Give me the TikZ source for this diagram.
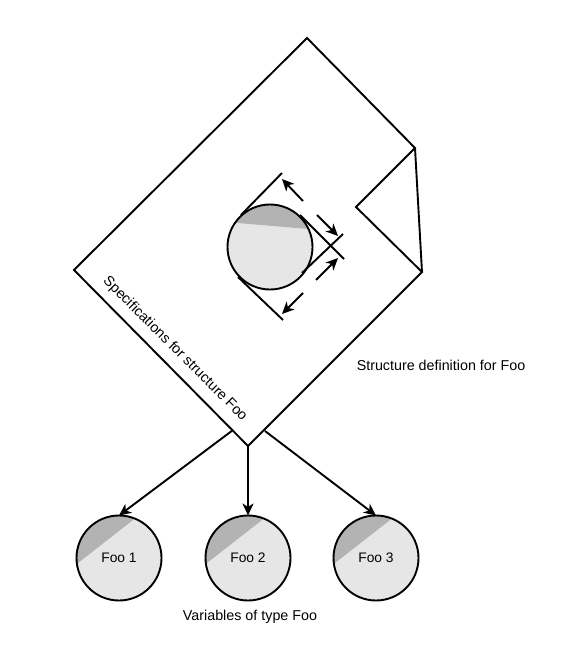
\documentclass[tikz,border=0pt]{standalone}
\usepackage{fontspec}
\setmainfont{Liberation Sans}
\usetikzlibrary{arrows.meta}
\definecolor{lightfill}{HTML}{E6E6E6}
\definecolor{capfill}{HTML}{B3B3B3}

\tikzset{
  >={Stealth[length=12pt,width=11pt,inset=3.5pt]},
  line/.style={line width=1.9pt,line join=miter},
  label/.style={font=\fontsize{14.3}{17}\selectfont,inner sep=0pt},
  foo/.style={draw,circle,line width=1.9pt,fill=lightfill,minimum size=85pt,inner sep=0pt,outer sep=0pt,
    font=\fontsize{13.8}{16}\selectfont,
    path picture={\fill[capfill] ([shift={(-41,5)}]path picture bounding box.center)
      -- ([shift={(14,-38)}]path picture bounding box.center)
      -- ([shift={(14,-50)}]path picture bounding box.center)
      -- ([shift={(-50,-50)}]path picture bounding box.center)
      -- ([shift={(-50,5)}]path picture bounding box.center) -- cycle;}},
}

\begin{document}
\begin{tikzpicture}[x=1pt,y=-1pt]
    \useasboundingbox (0,0) rectangle (567,669);

    % sheet corners
    \coordinate (top) at (307,38);
    \coordinate (left) at (74,270);
    \coordinate (bottom) at (248,446);
    \coordinate (right) at (422,272);
    \coordinate (foldtop) at (415,148);
    \coordinate (foldin) at (356,207);
    \coordinate (tapleft) at (233,430);
    \coordinate (tapright) at (265,431);

    % sheet
    \draw[line] (top) -- (foldtop) -- (foldin) -- (right) -- (bottom) -- (left) -- cycle;
    \draw[line] (foldtop) -- (right);

    % shape in the middle
    \node[draw,circle,line width=1.9pt,fill=lightfill,minimum size=85pt,inner sep=0pt,outer sep=0pt,
      path picture={\fill[capfill] ([shift={(-50,-25.5)}]path picture bounding box.center)
        -- ([shift={(50,-17)}]path picture bounding box.center)
        -- ([shift={(50,-50)}]path picture bounding box.center)
        -- ([shift={(-50,-50)}]path picture bounding box.center) -- cycle;}] (core) at (270,247) {};

    % tangent lines
    \coordinate (t1a) at (241,215);
    \coordinate (t1b) at (282,173);
    \coordinate (t2a) at (300,215);
    \coordinate (t2b) at (344,259);
    \coordinate (t3a) at (302,273);
    \coordinate (t3b) at (343,234);
    \coordinate (t4a) at (238,277);
    \coordinate (t4b) at (283,320);
    \draw[line] (t1a) -- (t1b);
    \draw[line] (t2a) -- (t2b);
    \draw[line] (t3a) -- (t3b);
    \draw[line] (t4a) -- (t4b);

    % size arrows
    \coordinate (a1a) at (303,201);
    \coordinate (a1b) at (282,179);
    \coordinate (a2a) at (317,215);
    \coordinate (a2b) at (338,236);
    \coordinate (a3a) at (316,280);
    \coordinate (a3b) at (338,258);
    \coordinate (a4a) at (303,293);
    \coordinate (a4b) at (282,314);
    \draw[->,line] (a1a) -- (a1b);
    \draw[->,line] (a2a) -- (a2b);
    \draw[->,line] (a3a) -- (a3b);
    \draw[->,line] (a4a) -- (a4b);

    % variables
    \node[foo] (foo1) at (119,558) {Foo 1};
    \node[foo] (foo2) at (248,558) {Foo 2};
    \node[foo] (foo3) at (376,558) {Foo 3};

    % labels
    \node[label] (structdef) at (441,365) {Structure definition for Foo};
    \node[label] (vars) at (250,617) {Variables of type Foo};
    \node[label,rotate=-45] (spec) at (175,349) {Specifications for structure Foo};

    % arrows
    \draw[->,line] (tapleft) -- (foo1.north);
    \draw[->,line] (bottom) -- (foo2.north);
    \draw[->,line] (tapright) -- (foo3.north);

\end{tikzpicture}
\end{document}
